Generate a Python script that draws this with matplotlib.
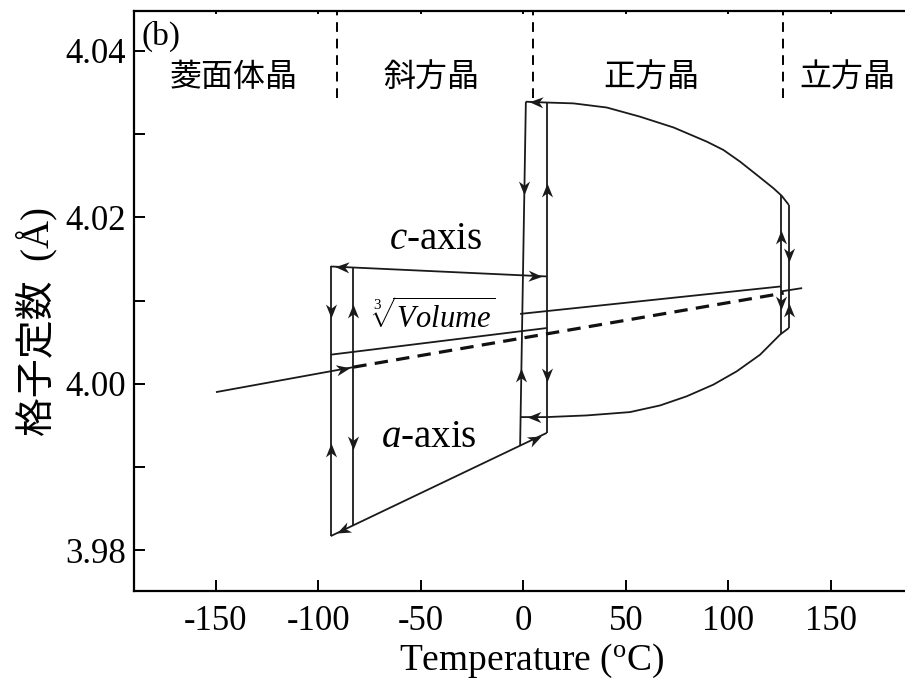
import numpy as np
import matplotlib
matplotlib.use("Agg")
import matplotlib.pyplot as plt
from matplotlib.path import Path
from matplotlib.markers import MarkerStyle
from matplotlib.transforms import Affine2D

plt.rcParams['font.family'] = ['Liberation Serif', 'Noto Sans CJK JP']
plt.rcParams['mathtext.fontset'] = 'custom'
plt.rcParams['mathtext.rm'] = 'Liberation Serif'
plt.rcParams['mathtext.it'] = 'Liberation Serif:italic'
plt.rcParams['mathtext.bf'] = 'Liberation Serif:bold'

# ---- data (temperature in degC, lattice constant in Angstrom) ----
# orthorhombic phase, c and a axes
T_ortho = [-94.0, 11.4]
c_ortho = [4.0141, 4.0129]
a_ortho = [3.9817, 3.9941]

# rhombohedral <-> orthorhombic hysteresis
T_RO_cool = -94.0
T_RO_heat = -83.0

# orthorhombic <-> tetragonal hysteresis (cooling edge slightly tilted)
T_OT_cool = [1.2, -1.6]
v_OT_cool = [4.0339, 3.9926]
T_OT_heat = 11.4
v_OT_heat = [4.0339, 3.9941]

# tetragonal phase
T_tet_c = [1.2, 11.4, 24.4, 40.7, 56.9, 73.3, 89.5, 97.6, 105.7, 113.9, 122.0, 126.0, 129.5]
c_tet = [4.0339, 4.0338, 4.0337, 4.0332, 4.0321, 4.0308, 4.0291, 4.0281, 4.0267, 4.0251, 4.0235,
         4.0226, 4.0215]
T_tet_a = [-1.6, 4.9, 11.4, 30.9, 52.0, 66.7, 79.7, 92.7, 104.1, 115.5, 125.2, 129.5]
a_tet = [3.9960, 3.9960, 3.9960, 3.9962, 3.9966, 3.9974, 3.9985, 3.9999, 4.0015, 4.0035, 4.0059,
         4.0067]

# tetragonal <-> cubic hysteresis
T_TC_cool = 125.6
T_TC_heat = 129.5

# cube root of the cell volume
T_vol_rh = [-150.0, -83.0]
v_vol_rh = [3.9990, 4.0020]
T_vol_or = [-94.0, 11.4]
v_vol_or = [4.0035, 4.0067]
T_vol_te = [-1.6, 125.6]
v_vol_te = [4.0084, 4.0117]
T_vol_dash = [-83.0, 127.0]
v_vol_dash = [4.0020, 4.0109]
T_vol_cu = [125.6, 136.0]
v_vol_cu = [4.0111, 4.0115]

# phase boundaries and names
T_bounds = [-91.0, 4.6, 126.8]
phase_names = ['菱面体晶', '斜方晶', '正方晶', '立方晶']
phase_T = [-141.5, -44.7, 62.3, 157.9]

x_ticks = [-150, -100, -50, 0, 50, 100, 150]
y_ticks = [3.98, 4.00, 4.02, 4.04]

# ---- figure ----
fig = plt.figure(figsize=(9.05, 6.94), dpi=100)
ax = fig.add_axes([134 / 905, 103 / 694, (912.8 - 134) / 905, (591 - 11) / 694])
ax.set_xlim(-190, 190)
ax.set_ylim(3.9751, 4.0448)

LC = '#1a1a1a'
LW = 1.3

def line(x, y, **kw):
    opts = dict(color=LC, lw=LW, solid_capstyle='butt')
    opts.update(kw)
    ax.plot(x, y, **opts)

# orthorhombic c/a
line(T_ortho, c_ortho)
line(T_ortho, a_ortho)
for T in (T_RO_cool, T_RO_heat):
    line([T, T], [np.interp(T, T_ortho, c_ortho), np.interp(T, T_ortho, a_ortho)])
line(T_OT_cool, v_OT_cool)
line([T_OT_heat, T_OT_heat], v_OT_heat)

# tetragonal c/a
line(T_tet_c, c_tet)
line(T_tet_a, a_tet)
for T in (T_TC_cool, T_TC_heat):
    line([T, T], [np.interp(T, T_tet_c, c_tet), np.interp(T, T_tet_a, a_tet)])

# volume
line(T_vol_rh, v_vol_rh)
line(T_vol_or, v_vol_or)
line(T_vol_te, v_vol_te)
line(T_vol_cu, v_vol_cu)
ax.plot(T_vol_dash, v_vol_dash, color='#111111', lw=2.3, linestyle=(0, (4.2, 2.6)))

# phase boundaries
for T in T_bounds:
    ax.plot([T, T], [4.0344, 4.0448], color='k', lw=1.4, linestyle=(0, (5, 3.5)))
for name, T in zip(phase_names, phase_T):
    ax.text(T, 4.0369, name, ha='center', va='center', fontsize=23,
            family=['Noto Sans CJK JP'])

# arrowheads
head = Path([(0.5, 0.0), (-0.5, 0.4), (-0.2, 0.0), (-0.5, -0.4), (0.5, 0.0)],
            [Path.MOVETO, Path.LINETO, Path.LINETO, Path.LINETO, Path.CLOSEPOLY])

def arrowhead(x, y, dx, dy):
    p0 = ax.transData.transform((x, y))
    p1 = ax.transData.transform((x + dx, y + dy))
    ang = np.degrees(np.arctan2(p1[1] - p0[1], p1[0] - p0[0]))
    m = MarkerStyle(head, transform=Affine2D().rotate_deg(ang))
    ax.plot([x], [y], marker=m, markersize=10, color=LC, markeredgewidth=0, linestyle='none')

def arrow_along(Tl, vl, T, sign):
    y = np.interp(T, Tl, vl)
    slope = (vl[-1] - vl[0]) / (Tl[-1] - Tl[0])
    arrowhead(T, y, sign * 1.0, sign * slope)

def arrow_vertical(Tl, vl, y, sign):
    Tl = np.atleast_1d(Tl)
    if Tl.size == 1:
        x = float(Tl[0])
    else:
        x = float(np.interp(y, vl[::-1], Tl[::-1]))
    arrowhead(x, y, 0.0, sign * 0.001)

arrow_along(T_ortho, c_ortho, -88.6, -1)
arrow_along(T_ortho, c_ortho, 5.7, +1)
arrow_along(T_ortho, a_ortho, -88.0, -1)
arrow_along(T_ortho, a_ortho, 5.5, +1)
arrow_along(T_vol_rh, v_vol_rh, -88.0, +1)
arrow_along(T_tet_c[:2], c_tet[:2], 6.0, -1)
arrow_along(T_tet_a[:3], a_tet[:3], 5.0, -1)

arrow_vertical(T_RO_cool, None, 4.0087, -1)
arrow_vertical(T_RO_cool, None, 3.9921, +1)
arrow_vertical(T_RO_heat, None, 4.0087, +1)
arrow_vertical(T_RO_heat, None, 3.9929, -1)
arrow_vertical(T_OT_cool, v_OT_cool, 4.0235, -1)
arrow_vertical(T_OT_cool, v_OT_cool, 4.0011, +1)
arrow_vertical(T_OT_heat, None, 4.0233, +1)
arrow_vertical(T_OT_heat, None, 4.0011, -1)
arrow_vertical(T_TC_cool, None, 4.0177, +1)
arrow_vertical(T_TC_cool, None, 4.0097, -1)
arrow_vertical(T_TC_heat, None, 4.0155, -1)
arrow_vertical(T_TC_heat, None, 4.0089, +1)

# curve labels
ax.text(-42.6, 4.0173, r'$c$-axis', ha='center', va='center', fontsize=28)
ax.text(-46.0, 3.9935, r'$a$-axis', ha='center', va='center', fontsize=28)
ax.text(-44.0, 4.0080, r'$\sqrt[3]{Volume}$', ha='center', va='center', fontsize=22)
ax.text(-186.5, 4.0417, '(b)', ha='left', va='center', fontsize=24)

# axes styling
ax.set_xticks(x_ticks)
ax.set_xticklabels([str(v) for v in x_ticks])
ax.set_yticks(y_ticks)
ax.set_yticklabels(['%.2f' % v for v in y_ticks])
ax.set_yticks([3.99, 4.01, 4.03], minor=True)
ax.tick_params(axis='both', which='both', direction='in', labelsize=25, width=1.4, length=8)
ax.tick_params(axis='x', which='major', top=True, pad=10)
ax.tick_params(axis='y', which='both', pad=6)
for s in ax.spines.values():
    s.set_linewidth(1.6)

# shorter ticks along the top edge
for tk in ax.xaxis.get_major_ticks():
    tk.tick2line.set_markersize(2.5)

ax.set_xlabel('Temperature ($^{\\rm o}$C)', fontsize=27)
ax.xaxis.set_label_coords(0.5104, -0.087)
ax.set_ylabel('格子定数  (Å)', fontsize=28)
ax.yaxis.set_label_coords(-0.098, 0.4647)

fig.savefig('out.png', dpi=100)
